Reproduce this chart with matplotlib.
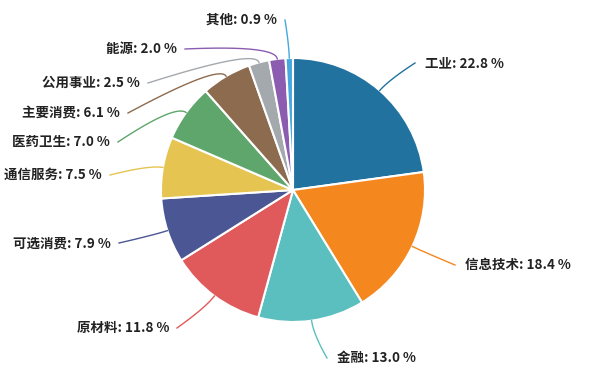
import numpy as np
import matplotlib
matplotlib.use("Agg")
from matplotlib import pyplot as plt

plt.rcParams['font.family'] = ['Noto Sans CJK SC', 'DejaVu Sans']

# data
sectors = ["工业", "信息技术", "金融", "原材料", "可选消费", "通信服务",
           "医药卫生", "主要消费", "公用事业", "能源", "其他"]
weights = [22.8, 18.4, 13.0, 11.8, 7.9, 7.5, 7.0, 6.1, 2.5, 2.0, 0.9]
colors = ["#21729f", "#f5871f", "#5cbfbf", "#e05a5c", "#4b5794", "#e5c452",
          "#5ea66b", "#8d6b4f", "#a4a9ae", "#8b5cb0", "#45a8de"]

# label layout (pixel coords, y from top)
label_x = [425, 465, 337, 169, 111, 102, 110, 120, 140, 177, 277]
label_y = [63, 265, 358, 328, 243, 175, 142, 113, 83, 49, 20]
label_ha = ["left", "left", "left", "right", "right", "right",
            "right", "right", "right", "right", "right"]

W, H = 596, 380
cx, cy, r = 293, 190, 132

fig = plt.figure(figsize=(W / 100, H / 100), dpi=100)
ax = fig.add_axes([0, 0, 1, 1])

wedges, _ = ax.pie(weights, colors=colors, startangle=90, counterclock=False,
                   center=(cx, H - cy), radius=r,
                   wedgeprops=dict(edgecolor="white", linewidth=1.5))
ax.set_xlim(0, W)
ax.set_ylim(0, H)
ax.set_aspect("equal")
ax.axis("off")

for w, name, val, col, lx, ly, ha in zip(wedges, sectors, weights, colors,
                                          label_x, label_y, label_ha):
    mid = np.deg2rad((w.theta1 + w.theta2) / 2)
    A = np.array([cx + r * np.cos(mid), H - cy + r * np.sin(mid)])
    B = np.array([cx + (r + 14) * np.cos(mid), H - cy + (r + 14) * np.sin(mid)])
    gap = 10 if ha == "left" else -8
    C = np.array([lx - gap, H - ly])
    t = np.linspace(0, 1, 40)[:, None]
    pts = (1 - t) ** 2 * A + 2 * (1 - t) * t * B + t ** 2 * C
    ax.plot(pts[:, 0], pts[:, 1], color=col, lw=1)
    ax.text(lx, H - ly, f"{name}: {val:.1f} %", ha=ha, va="center",
            fontsize=9.7, fontweight="bold", color="#222222")

fig.savefig("out.png", dpi=100)
